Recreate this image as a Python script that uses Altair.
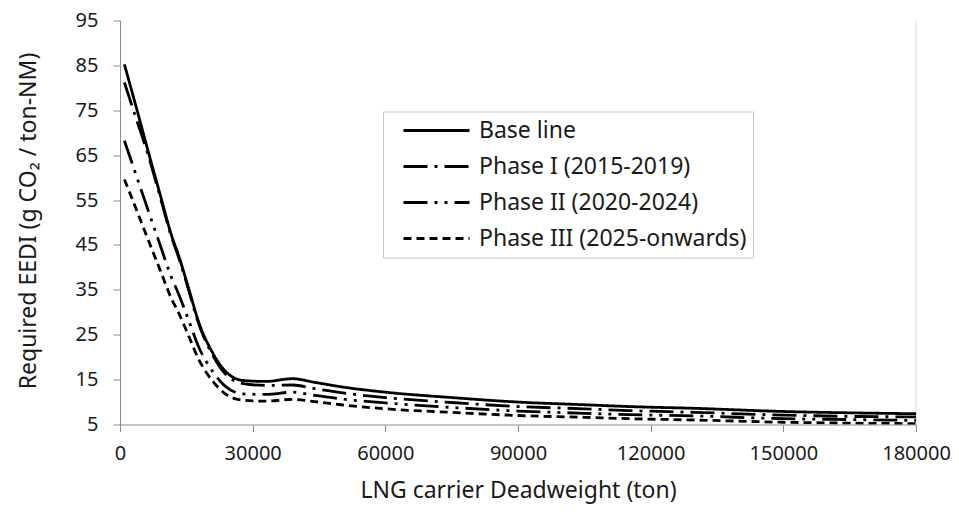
import altair as alt
import pandas as pd

dwt = [1000, 3500, 6500, 9000, 11700, 13200, 15500, 17700, 21100, 23700, 27900, 33000,
       39000, 44000, 50000, 60000, 75000, 90000, 105000, 115000, 130000, 150000, 165000, 180000]
base_line = [85.2, 76.3, 65.4, 56.5, 47.0, 42.8, 35.4, 28.1, 20.7, 17.0, 14.8, 14.6,
             15.2, 14.4, 13.4, 12.2, 11.0, 10.0, 9.4, 9.0, 8.6, 7.9, 7.6, 7.4]
phase_1 = [81.2, 73.6, 64.6, 56.0, 46.6, 42.4, 35.0, 27.7, 20.2, 16.4, 14.1, 13.7,
           13.8, 13.0, 12.1, 11.0, 9.9, 9.0, 8.5, 8.1, 7.7, 7.1, 6.8, 6.7]
phase_2 = [68.2, 61.0, 52.3, 45.2, 37.6, 34.2, 28.3, 22.5, 16.6, 13.6, 11.8, 11.7,
           12.2, 11.5, 10.7, 9.8, 8.8, 8.0, 7.5, 7.2, 6.9, 6.3, 6.1, 5.9]
phase_3 = [59.6, 53.4, 45.8, 39.6, 32.9, 30.0, 24.8, 19.7, 14.5, 11.9, 10.4, 10.2,
           10.6, 10.1, 9.4, 8.5, 7.7, 7.0, 6.6, 6.3, 6.0, 5.5, 5.3, 5.2]

series_names = ["Base line", "Phase I (2015-2019)", "Phase II (2020-2024)", "Phase III (2025-onwards)"]
series_values = [base_line, phase_1, phase_2, phase_3]
x_ticks = [0, 30000, 60000, 90000, 120000, 150000, 180000]
y_ticks = [5, 15, 25, 35, 45, 55, 65, 75, 85, 95]

rows = []
for name, vals in zip(series_names, series_values):
    for d, v in zip(dwt, vals):
        rows.append({"DWT": d, "EEDI": v, "Series": name})
df = pd.DataFrame(rows)

FONT = "Noto Sans"
TXT = "#1a1a1a"
AX = "#8c8c8c"

dash_scale = alt.Scale(
    domain=series_names,
    range=[[1, 0], [24, 7, 3, 7], [24, 7, 3, 7, 3, 7], [8, 5]],
)

lines = alt.Chart(df).mark_line(
    color="black", strokeWidth=2.8, interpolate="monotone", clip=True
).encode(
    x=alt.X("DWT:Q", scale=alt.Scale(domain=[0, 180000], nice=False),
            axis=alt.Axis(values=x_ticks, format="d", title="LNG carrier Deadweight (ton)",
                          titleX=398, titleY=66, titleBaseline="middle", labelFlush=False)),
    y=alt.Y("EEDI:Q", scale=alt.Scale(domain=[5, 95], nice=False),
            axis=alt.Axis(values=y_ticks, title="Required EEDI (g CO₂ / ton-NM)",
                          titleX=-92, titleY=200, titleBaseline="middle", titleAngle=-90,
                          labelFlush=False)),
    strokeDash=alt.StrokeDash("Series:N", scale=dash_scale, sort=series_names,
                              legend=alt.Legend(title=None, orient="none", legendX=263, legendY=91,
                                                symbolType="stroke", symbolSize=4356,
                                                symbolStrokeWidth=3, symbolStrokeColor="black",
                                                symbolOffset=13, clipHeight=26,
                                                labelFontSize=23, labelFont=FONT, labelColor=TXT,
                                                labelOffset=8, rowPadding=10,
                                                padding=6, strokeColor="#c8c8c8",
                                                fillColor="white", labelLimit=400)),
    detail="Series:N",
)

right_border = alt.Chart(pd.DataFrame({"x": [180000]})).mark_rule(
    color="#d9d9d9", strokeWidth=1
).encode(x="x:Q")

chart = alt.layer(right_border, lines).properties(
    width=796, height=404,
    autosize=alt.AutoSizeParams(type="none"),
    padding={"left": 112, "top": 12.5, "right": 35, "bottom": 92.5},
).configure_view(stroke=None).configure_axis(
    domainColor=AX, tickColor=AX, tickSize=7, grid=False,
    labelFont=FONT, labelFontSize=20, labelColor=TXT,
    titleFont=FONT, titleFontSize=23, titleColor=TXT, titleFontWeight="normal",
).configure_axisY(labelPadding=15).configure_axisX(labelPadding=12)

chart.save("out.html", embed_options={"renderer": "svg", "actions": False})
